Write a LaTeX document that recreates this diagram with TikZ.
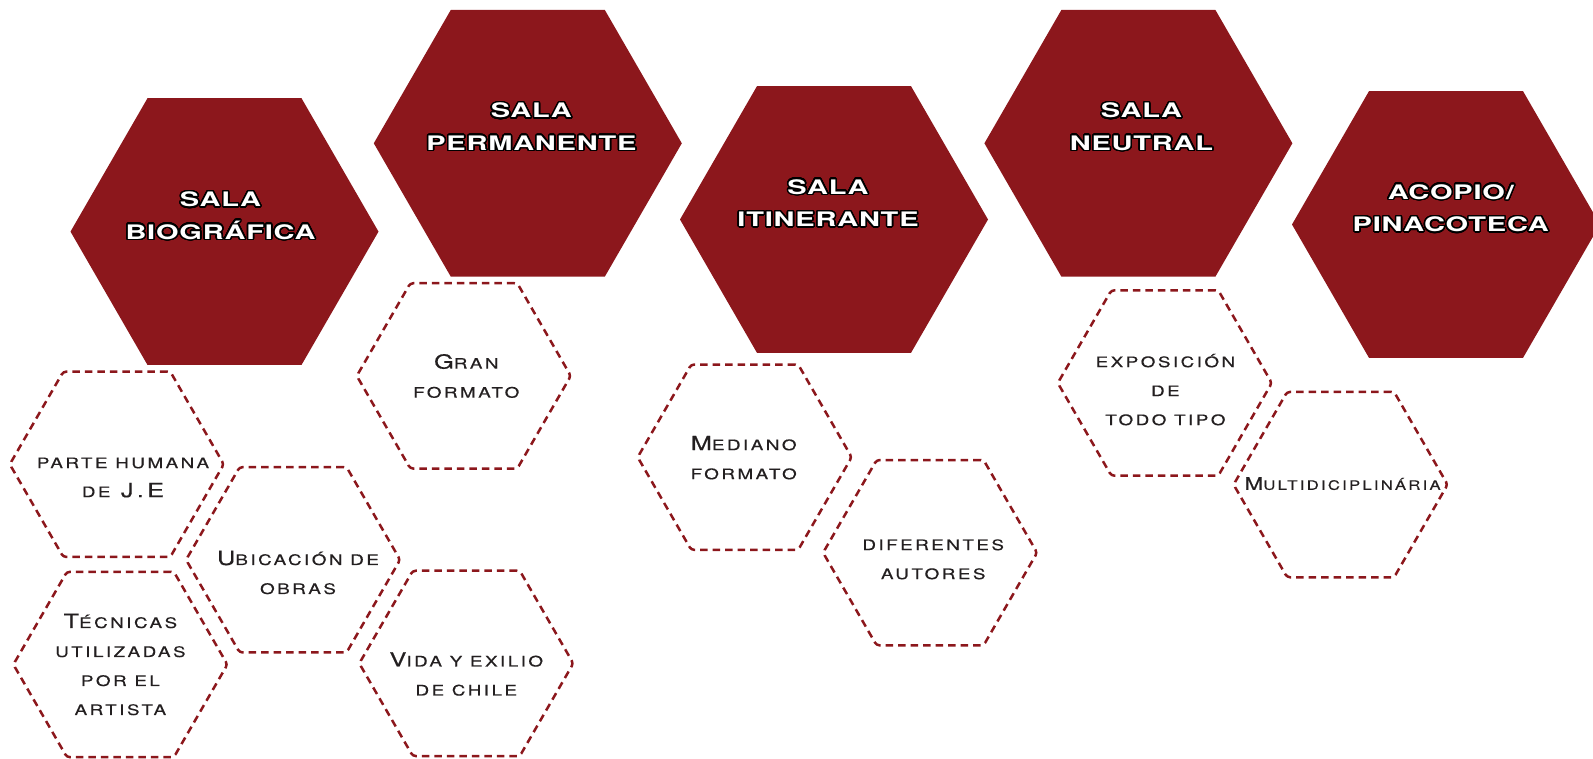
\documentclass[tikz,border=0pt]{standalone}
\usepackage{fontspec}
\usepackage{contour}
\usetikzlibrary{shapes.geometric}
\contourlength{1.5pt}
\contournumber{32}
\newfontfamily\titlefont{TeX Gyre Heros}[FakeStretch=1.45,LetterSpace=4]
\newfontfamily\labfont{TeX Gyre Heros}[FakeStretch=1.3,LetterSpace=17,FakeBold=0.4]
\newcommand\sm[1]{{\fontsize{14.5pt}{29pt}\selectfont #1}}
\newcommand\ct[1]{\contour{black}{#1}}
\definecolor{hexred}{RGB}{140,23,28}
\definecolor{txtgray}{RGB}{35,31,32}
\begin{document}
\begin{tikzpicture}[x=1pt,y=-1pt,
  filledhex/.style={regular polygon, regular polygon sides=6, minimum size=308pt,
    inner sep=0pt, outer sep=0pt, fill=hexred, draw=none},
  dashhex/.style={regular polygon, regular polygon sides=6, minimum size=214pt,
    inner sep=0pt, outer sep=0pt, draw=hexred, line width=2.5pt,
    dash pattern=on 7.5pt off 5pt, rounded corners=3pt},
  title/.style={align=center, text=white, inner sep=0pt,
    font=\titlefont\bfseries\fontsize{20pt}{32.5pt}\selectfont},
  lab/.style={align=center, text=txtgray, inner sep=0pt,
    font=\labfont\fontsize{19.5pt}{29pt}\selectfont}]
\useasboundingbox (0,0) rectangle (1593,759);
% filled hexagons
\node[filledhex] (h1) at (224.5,231.6) {};
\node[filledhex] (h2) at (527.8,143.3) {};
\node[filledhex] (h3) at (834,219.5) {};
\node[filledhex] (h4) at (1138.4,143.3) {};
\node[filledhex] (h5) at (1446,224.5) {};
% dashed hexagons
\node[dashhex] (d1) at (116.8,464.3) {};
\node[dashhex] (d2) at (293.1,559.8) {};
\node[dashhex] (d3) at (120.4,664.5) {};
\node[dashhex] (d4) at (466.3,663.4) {};
\node[dashhex] (d5) at (463.8,375.9) {};
\node[dashhex] (d6) at (744.7,457.2) {};
\node[dashhex] (d7) at (930.1,552.7) {};
\node[dashhex] (d8) at (1164.8,383.0) {};
\node[dashhex] (d9) at (1340.6,484.6) {};
% titles
\node[title] (t1) at (220.5,216.4) {\ct{SALA}\\\ct{BIOGRÁFICA}};
\node[title] (t2) at (531.4,127.5) {\ct{SALA}\\\ct{PERMANENTE}};
\node[title] (t3) at (828,203.7) {\ct{SALA}\\\ct{ITINERANTE}};
\node[title] (t4) at (1141.5,127.5) {\ct{SALA}\\\ct{NEUTRAL}};
\node[title] (t5) at (1450.8,208.8) {\ct{ACOPIO/}\\\ct{PINACOTECA}};
% labels
\node[lab] (l1) at (123,477.5) {\sm{PARTE HUMANA}\\\sm{DE} J.E};
\node[lab] (l2) at (298,572.5) {U\sm{BICACIÓN DE}\\\sm{OBRAS}};
\node[lab] (l3) at (120.4,664.5) {T\sm{ÉCNICAS}\\\sm{UTILIZADAS}\\\sm{POR EL}\\\sm{ARTISTA}};
\node[lab] (l4) at (466.3,674) {V\sm{IDA Y EXILIO}\\\sm{DE CHILE}};
\node[lab] (l5) at (466.3,376) {G\sm{RAN}\\\sm{FORMATO}};
\node[lab] (l6) at (743.7,457.7) {M\sm{EDIANO}\\\sm{FORMATO}};
\node[lab] (l7) at (933.2,559.3) {\sm{DIFERENTES}\\\sm{AUTORES}};
\node[lab] (l8) at (1165.4,389.6) {\sm{EXPOSICIÓN}\\\sm{DE}\\\sm{TODO TIPO}};
\node[lab, scale=0.89, transform shape] (l9) at (1342.6,483.6) {M\sm{ULTIDICIPLINÁRIA}};
\end{tikzpicture}
\end{document}
